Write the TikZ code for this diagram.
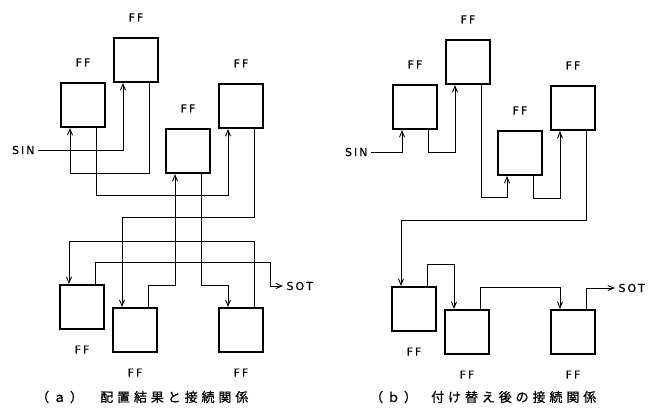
\documentclass[tikz,border=0pt]{standalone}
\usepackage{fontspec}
\setmainfont{Liberation Sans}
\newfontfamily\ffont{DejaVu Sans}[LetterSpace=18, FakeBold=0.6]
\newfontfamily\jpfont{Noto Sans CJK JP}[LetterSpace=30, FakeBold=0.8]
\usetikzlibrary{arrows.meta, positioning}
\tikzset{
  ffbox/.style   = {draw, line width=2pt, minimum size=44pt, inner sep=0pt},
  wire/.style    = {line width=0.9pt, -{Straight Barb[length=6pt, width=5pt]}},
  lbl/.style     = {font=\ffont\fontsize{11}{13}\selectfont},
  captext/.style = {font=\jpfont\fontsize{13}{15}\selectfont, inner sep=0pt, anchor=west},
}

\begin{document}
\begin{tikzpicture}[x=1pt, y=-1pt]
  \useasboundingbox (0,0) rectangle (648,410);

  % flip-flops of both panels
  \foreach \p/\dx/\dy in {a/0/0, b/332/2} {
    \foreach \i/\x/\y/\side in {1/83/105/above, 2/136/60/above,
                                3/188/151/above, 4/241/106/above,
                                5/82/307/below, 6/135/330/below,
                                7/241/330/below} {
      \node[ffbox, label={[lbl, label distance=12pt]\side:FF}] (\p\i)
        at (\x+\dx, \y+\dy) {};
    }
  }

  % (a) placement result
  \node[lbl, anchor=east] (sina) at (38,150) {SIN};
  \node[lbl, anchor=west] (sota) at (283,286) {SOT};
  \draw[wire] (sina.east) -| ([xshift=-13]a2.south);
  \draw[wire] ([xshift=13]a2.south) -- ++(0,90) -| ([xshift=-13]a1.south);
  \draw[wire] ([xshift=13]a1.south) -- ++(0,67) -| ([xshift=-13]a4.south);
  \draw[wire] ([xshift=13]a4.south) -- ++(0,88) -| ([xshift=-13]a6.north);
  \draw[wire] ([xshift=13]a6.north) -- ++(0,-22) -| ([xshift=-13]a3.south);
  \draw[wire] ([xshift=13]a3.south) -- ++(0,111) -| ([xshift=-13]a7.north);
  \draw[wire] ([xshift=13]a7.north) -- ++(0,-66) -| ([xshift=-13]a5.north);
  \draw[wire] ([xshift=13]a5.north) -- ++(0,-22) -| ([xshift=-13]sota.west)
    -- (sota.west);

  % (b) after reconnection
  \node[lbl, anchor=east] (sinb) at (371,152) {SIN};
  \node[lbl, anchor=west] (sotb) at (615,288) {SOT};
  \draw[wire] (sinb.east) -| ([xshift=-13]b1.south);
  \draw[wire] ([xshift=13]b1.south) -- ++(0,22) -| ([xshift=-13]b2.south);
  \draw[wire] ([xshift=13]b2.south) -- ++(0,112) -| ([xshift=-13]b3.south);
  \draw[wire] ([xshift=13]b3.south) -- ++(0,22) -| ([xshift=-13]b4.south);
  \draw[wire] ([xshift=13]b4.south) -- ++(0,89) -| ([xshift=-13]b5.north);
  \draw[wire] ([xshift=13]b5.north) -- ++(0,-22) -| ([xshift=-13]b6.north);
  \draw[wire] ([xshift=13]b6.north) -- ++(0,-22) -| ([xshift=-13]b7.north);
  \draw[wire] ([xshift=13]b7.north) |- (sotb.west);

  % captions
  \node[captext] (capa) at (36,397) {（ａ）};
  \node[captext] (capta) at (100,397) {配置結果と接続関係};
  \node[captext] (capb) at (370,397) {（ｂ）};
  \node[captext] (captb) at (431,397) {付け替え後の接続関係};
\end{tikzpicture}
\end{document}
